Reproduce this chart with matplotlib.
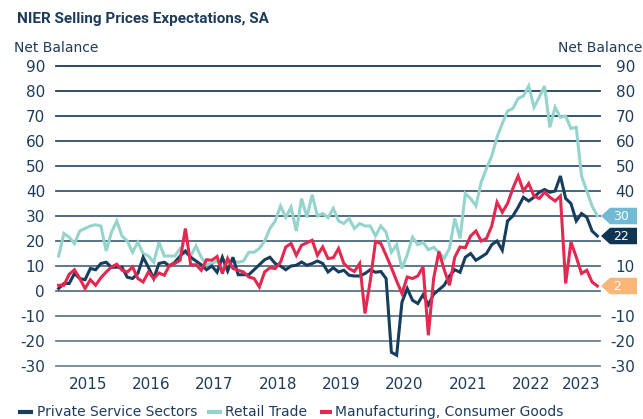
import numpy as np
import matplotlib
matplotlib.use("Agg")
import matplotlib.pyplot as plt
from matplotlib.lines import Line2D
from matplotlib.patches import Polygon
from matplotlib.transforms import blended_transform_factory
import matplotlib.colors as mcolors

plt.rcParams['axes.unicode_minus'] = False
plt.rcParams['font.family'] = ['DejaVu Sans']

# ---------------- data (monthly, Jan 2015 - Jul 2023) ----------------
start_year = 2015
retail = [14, 23, 21.5, 19, 24, 25, 26, 26.5, 26, 16, 23.5, 28,
          22, 20, 15.5, 19.5, 15, 14, 11.5, 19.5, 14, 14, 14, 17,
          15, 14, 18, 13.5, 10.5, 11, 12, 9.5, 11.5, 12, 11.5, 12,
          15.5, 15.5, 17, 20, 25, 28, 34, 29.5, 33.5, 24, 37, 29.5,
          38.5, 30, 31, 29.3, 33, 28, 27, 29, 25, 27, 26, 26,
          22, 26, 23.5, 15.5, 18.5, 9, 14.5, 21.5, 18.5, 19.5, 16.5, 17.5,
          15.5, 13, 17, 29, 21, 39, 37, 34, 43.5, 49, 54, 61.5,
          67, 72, 73, 77, 78, 82, 73.5, 77.5, 82, 65.5, 73.5, 69.5,
          70, 65, 65.5, 46, 40, 34, 30]
services = [1, 3, 3, 7, 5, 4.5, 9, 8.5, 11, 11.5, 9.5, 9.5,
            9.5, 5.5, 5, 7, 13.5, 9.5, 5, 11, 11.5, 10, 11.5, 14,
            16, 13.5, 12, 10.5, 8.5, 10, 7.5, 13.5, 8, 13.5, 6.5, 6.5,
            6.5, 8.5, 10.5, 12.5, 13.5, 11, 10, 8.5, 10, 10.3, 11.6, 10.3,
            11, 12, 11, 7.6, 9.3, 7.6, 8.3, 6.3, 6, 6, 7, 8.5,
            7.5, 7.8, 5, -24.5, -25.7, -4.5, 1, -3.7, -5, -1.5, -5.5, -1.3,
            0.5, 2.3, 6, 8.5, 7.5, 13.5, 15, 12.3, 13.6, 15, 18.5, 20,
            16.3, 28, 30, 33.5, 37.5, 36, 37.5, 39.5, 40.6, 39.5, 40, 46,
            37, 35, 28, 31, 29.5, 24, 22]
manufacturing = [2.3, 2.3, 6.7, 8.5, 5, 1, 4.5, 2.3, 5.3, 7.6, 9.6, 10.7,
                 8.3, 7.6, 9.6, 5, 3.6, 7.6, 5, 7.2, 6.3, 10.3, 11, 12.3,
                 25, 10.5, 10.5, 8.3, 12.5, 12.3, 13.8, 7, 13, 9, 8.3, 7.6,
                 5.6, 5, 1.6, 7.6, 9.3, 9, 11.5, 17.6, 19, 14.3, 18.3, 19.3,
                 20.3, 14.3, 17.6, 13, 13.3, 17, 11, 9, 7.8, 11, -9, 4,
                 19.8, 19, 14.3, 9.3, 4, -1, 5.6, 5, 6, 9.7, -17.7, 5,
                 15.8, 8.5, 2.3, 13.5, 17.6, 17.3, 22, 24, 20, 21, 26, 35.5,
                 31.5, 35, 41, 46, 40, 43, 38, 37, 39.5, 37.5, 36, 38,
                 3, 19.6, 13.6, 7, 8.3, 3.6, 2]
series_names = ["Private Service Sectors", "Retail Trade", "Manufacturing, Consumer Goods"]
y_ticks = [90, 80, 70, 60, 50, 40, 30, 20, 10, 0, -10, -20, -30]

# ---------------- styling ----------------
NAVY = '#173e5e'
TEAL = '#94d4cc'
RED = '#e3294f'
TEXT = '#1e3c5a'
TAG_RETAIL = '#72b9d3'
TAG_NAVY = '#0f3553'
TAG_ORANGE = '#f9b679'

W, H = 643, 419
fig = plt.figure(figsize=(W / 100, H / 100), dpi=100)
L, R, T, B = 56, 600, 66, 366
ax = fig.add_axes([L / W, 1 - B / H, (R - L) / W, (B - T) / H])
ax2 = ax.twinx()

n = len(retail)
x = np.arange(n)
ax.set_xlim(-0.5, n - 0.5)
ax.set_ylim(-30, 90)
ax2.set_ylim(-30, 90)
for a in (ax, ax2):
    for s in a.spines.values():
        s.set_visible(False)

# gridlines with colour gradient
c_top = np.array(mcolors.to_rgb('#183a59'))
c_bot = np.array(mcolors.to_rgb('#6e879a'))
for k, yv in enumerate(y_ticks):
    t = k / (len(y_ticks) - 1)
    col = c_top * (1 - t) + c_bot * t
    ax.axhline(yv, color=col, lw=1.3, zorder=1, clip_on=False)

ax.plot(x, retail, color=TEAL, lw=2.2, zorder=3, solid_joinstyle='miter')
ax.plot(x, services, color=NAVY, lw=2.2, zorder=4, solid_joinstyle='miter')
ax.plot(x, manufacturing, color=RED, lw=2.2, zorder=5, solid_joinstyle='miter')

# x ticks at the centre of each year's months
years = sorted(set(start_year + i // 12 for i in range(n)))
centers = [np.mean([i for i in range(n) if start_year + i // 12 == yr]) for yr in years]
ax.set_xticks(centers)
ax.set_xticklabels([str(yr) for yr in years])
ax.tick_params(axis='x', length=0, pad=8, labelsize=11, labelcolor=TEXT)

ax.set_yticks(y_ticks)
ax.set_yticklabels([str(v) for v in y_ticks])
ax.tick_params(axis='y', length=0, pad=7.9, labelsize=11, labelcolor=TEXT)

# end-value tags (they cover the right-hand tick labels they sit on)
tag_vals = [(retail[-1], TAG_RETAIL), (services[-1], TAG_NAVY), (manufacturing[-1], TAG_ORANGE)]
hh = 3.3
covered = [v for v in y_ticks if any(abs(v - tv) < 4 for tv, _ in tag_vals)]
right_labels = ["" if v in covered else str(v) for v in y_ticks]
ax2.set_yticks(y_ticks)
ax2.set_yticklabels(right_labels)
ax2.tick_params(axis='y', length=0, pad=25.2, labelsize=11, labelcolor=TEXT)
for lab in ax2.get_yticklabels():
    lab.set_horizontalalignment('right')

tr = blended_transform_factory(ax2.transAxes, ax2.transData)
fx = lambda px: (px - L) / (R - L)
for v, col in tag_vals:
    poly = Polygon([(fx(601), v), (fx(610), v + hh), (fx(637), v + hh),
                    (fx(637), v - hh), (fx(610), v - hh)], closed=True,
                   facecolor=col, edgecolor='none', transform=tr, clip_on=False, zorder=10)
    ax2.add_patch(poly)
    ax2.text(fx(613), v, f"{round(v)}", transform=tr, color='white', fontsize=9,
             ha='left', va='center', zorder=11, clip_on=False)

# titles
fig.text(17 / W, 1 - 19 / H, "NIER Selling Prices Expectations, SA",
         fontsize=11, fontweight='bold', family=['Roboto', 'DejaVu Sans'],
         color=TEXT, ha='left', va='center')
fig.text(14 / W, 1 - 48 / H, "Net Balance", fontsize=10, color=TEXT, ha='left', va='center')
fig.text(642 / W, 1 - 48 / H, "Net Balance", fontsize=10, color=TEXT, ha='right', va='center')

# legend
leg = [(18, 33, 37, NAVY), (207, 222, 225, TEAL), (320, 332, 335, RED)]
for (x0, x1, xt, col), name in zip(leg, series_names):
    fig.add_artist(Line2D([x0 / W, x1 / W], [1 - 411.5 / H, 1 - 411.5 / H], color=col,
                          lw=3, solid_capstyle='butt', transform=fig.transFigure))
    fig.text(xt / W, 1 - 415.5 / H, name, fontsize=10, color=TEXT, ha='left', va='baseline')

fig.savefig("out.png", dpi=100)
